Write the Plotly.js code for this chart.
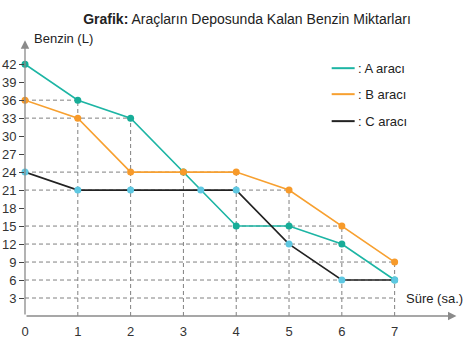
<!DOCTYPE html>
<html>
<head>
<meta charset="utf-8">
<script src="https://cdn.plot.ly/plotly-3.0.1.min.js"></script>
<style>html,body{margin:0;padding:0;background:#fff;}#chart{width:469px;height:351px;}</style>
</head>
<body>
<div id="chart"></div>
<script>
// Data
const hoursA = [0, 1, 2, 3, 4, 5, 6, 7];
const fuelA  = [42, 36, 33, 24, 15, 15, 12, 6];
const hoursB = [0, 1, 2, 3, 4, 5, 6, 7];
const fuelB  = [36, 33, 24, 24, 24, 21, 15, 9];
const hoursC = [0, 1, 2, 3.33, 4, 5, 6, 7];
const fuelC  = [24, 21, 21, 21, 21, 12, 6, 6];
const seriesNames = [': A aracı', ': B aracı', ': C aracı'];
const yTicks = [3, 6, 9, 12, 15, 18, 21, 24, 27, 30, 33, 36, 39, 42];
const xTicks = [0, 1, 2, 3, 4, 5, 6, 7];
const guideLevels = [3, 6, 9, 12, 15, 21, 24, 33, 36];

const colA = '#1db5a4', colB = '#f7a030', colC = '#222222';
const mkA = '#17ad98', mkB = '#f79a2a', mkC = '#5ec8e2';

// layout geometry (pixels)
const W = 469, H = 351;
const xMax = 8.2, yMax = 46.2;
const mL = 25, mB = 35;
const plotW = xMax * 52.86, plotH = yMax * 6;
const mR = W - mL - plotW, mT = H - mB - plotH;
const px = p => (p - mL) / plotW;
const py = p => (H - mB - p) / plotH;

const allPts = [];
[[hoursA, fuelA], [hoursB, fuelB], [hoursC, fuelC]].forEach(([xs, ys]) => {
  xs.forEach((x, i) => allPts.push([x, ys[i]]));
});
const maxX = Math.max(...xTicks);

const shapes = [];
const dash = {color: '#808080', width: 1, dash: '4px,3px'};
guideLevels.forEach(y => {
  const xs = allPts.filter(p => p[1] === y).map(p => p[0]);
  const xe = xs.length ? Math.max(...xs) : maxX;
  if (xe > 0) shapes.push({type: 'line', xref: 'x', yref: 'y', x0: 0, x1: xe, y0: y, y1: y, line: dash, layer: 'below'});
});
xTicks.forEach(x => {
  if (x === 0) return;
  const ys = allPts.filter(p => p[0] === x).map(p => p[1]);
  const yt = Math.max(...ys);
  shapes.push({type: 'line', xref: 'x', yref: 'y', x0: x, x1: x, y0: 0, y1: yt, line: dash, layer: 'below'});
});

// legend (manual)
const legCols = [colA, colB, colC];
const legPix = [68, 94, 121];
const annotations = [];
legCols.forEach((c, i) => {
  shapes.push({type: 'line', xref: 'paper', yref: 'paper', x0: px(332), x1: px(355), y0: py(legPix[i]), y1: py(legPix[i]), line: {color: c, width: 2}});
  annotations.push({xref: 'paper', yref: 'paper', x: px(356), y: py(legPix[i]), xanchor: 'left', yanchor: 'middle',
    text: seriesNames[i], showarrow: false, font: {size: 13, color: '#222'}});
});

// axis arrows
annotations.push({xref: 'x', yref: 'y', axref: 'x', ayref: 'y', x: 8.17, y: 0, ax: 0, ay: 0, showarrow: true,
  arrowhead: 2, arrowsize: 1.3, arrowwidth: 1.3, arrowcolor: '#8a8a8a', text: ''});
annotations.push({xref: 'x', yref: 'y', axref: 'x', ayref: 'y', x: 0, y: 46.0, ax: 0, ay: 0, showarrow: true,
  arrowhead: 2, arrowsize: 1.3, arrowwidth: 1.3, arrowcolor: '#8a8a8a', text: ''});
// axis titles
annotations.push({xref: 'paper', yref: 'paper', x: px(32), y: py(38), xanchor: 'left', yanchor: 'middle',
  text: 'Benzin (L)', showarrow: false, font: {size: 13, color: '#222'}});
annotations.push({xref: 'paper', yref: 'paper', x: px(404), y: py(298), xanchor: 'left', yanchor: 'middle',
  text: 'Süre (sa.)', showarrow: false, font: {size: 13, color: '#222'}});

const trace = (x, y, lc, mc, name) => ({
  x, y, name, type: 'scatter', mode: 'lines+markers', cliponaxis: false,
  line: {color: lc, width: 1.6}, marker: {color: mc, size: 7}, showlegend: false
});

const data = [
  trace(hoursA, fuelA, colA, mkA, seriesNames[0]),
  trace(hoursB, fuelB, colB, mkB, seriesNames[1]),
  trace(hoursC, fuelC, colC, mkC, seriesNames[2])
];

const layout = {
  width: W, height: H,
  margin: {l: mL, r: mR, t: mT, b: mB},
  paper_bgcolor: '#fff', plot_bgcolor: '#fff',
  font: {family: 'Liberation Sans, Arial, sans-serif', size: 13, color: '#333'},
  title: {text: '<b>Grafik:</b> Araçların Deposunda Kalan Benzin Miktarları', x: 247 / W, xanchor: 'center',
    y: 1 - 19 / H, yanchor: 'middle', font: {size: 14, color: '#222'}},
  xaxis: {range: [0, xMax], tickvals: xTicks, ticktext: xTicks.map(String), showgrid: false, zeroline: false,
    showline: false, ticks: '', ticklabelstandoff: 6, fixedrange: true},
  yaxis: {range: [0, yMax], tickvals: yTicks, ticktext: yTicks.map(String), showgrid: false, zeroline: false,
    showline: false, ticks: 'outside', ticklen: 5, tickcolor: '#444', tickwidth: 1, ticklabelstandoff: 0, fixedrange: true},
  shapes, annotations,
  showlegend: false
};

Plotly.newPlot('chart', data, layout, {displayModeBar: false, staticPlot: true});
</script>
</body>
</html>
